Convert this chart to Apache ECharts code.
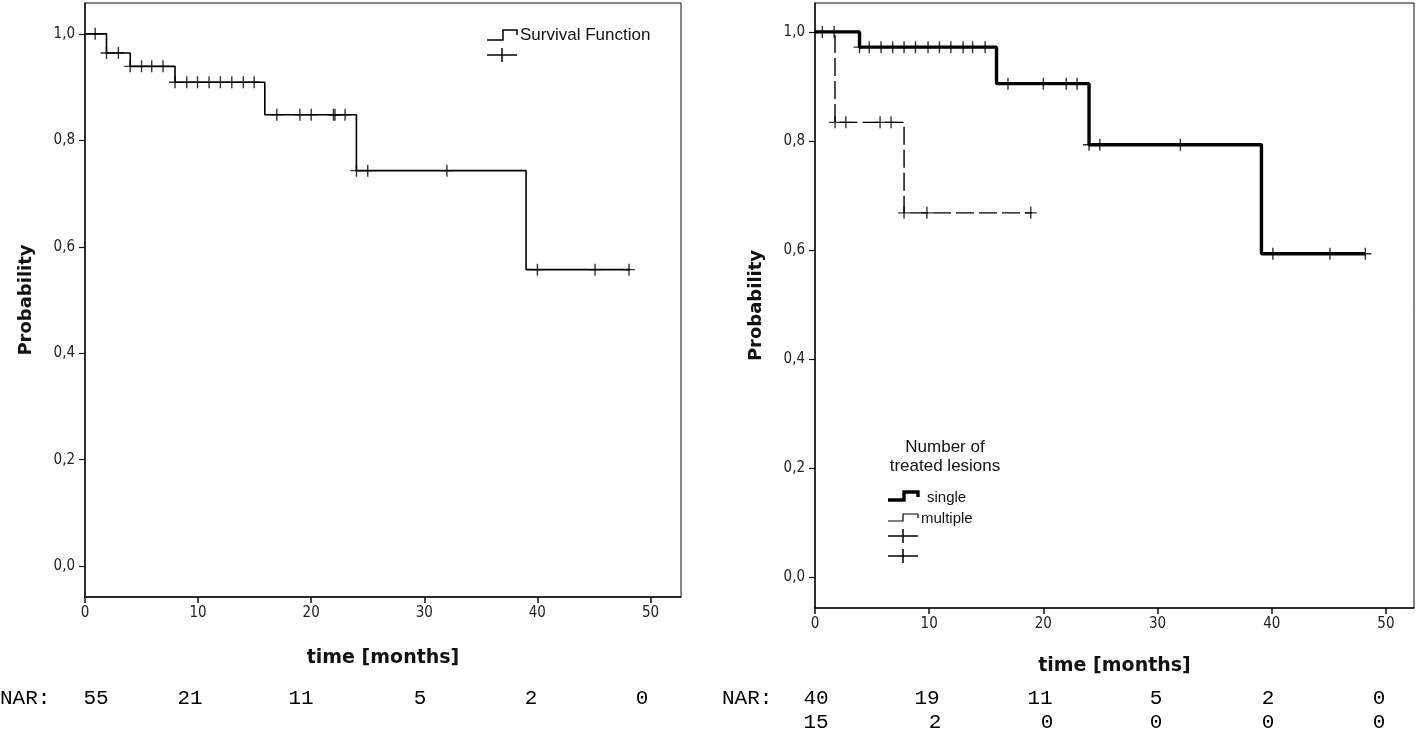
<!DOCTYPE html>
<html><head><meta charset="utf-8">
<script src="https://cdn.jsdelivr.net/npm/echarts@6/dist/echarts.min.js"></script>
<style>html,body{margin:0;padding:0;background:#fff}#c{width:1418px;height:731px}</style>
</head><body><div id="c"></div>
<script>
// ---- Data ----
const xTicks = [0, 10, 20, 30, 40, 50];
const yTicks = [0, 0.2, 0.4, 0.6, 0.8, 1.0];
// Left: overall survival function (step points: time, survival)
const allTimes = [0, 1.9, 4.0, 7.96, 15.9, 24.0, 39.0, 48.2];
const allSurv  = [1.0, 0.964, 0.939, 0.909, 0.848, 0.743, 0.557, 0.557];
const allCensor = [0.9, 1.9, 2.95, 4.0, 5.0, 5.9, 6.9, 7.96, 9.0, 9.95, 10.97, 11.97, 12.98, 14.0, 14.96, 16.96, 19.0, 20.0, 21.97, 22.1, 23.0, 24.0, 25.0, 32.0, 40.0, 45.1, 48.1];
// Right: single lesion
const singleTimes = [0, 3.9, 15.9, 24.0, 39.1, 48.2];
const singleSurv  = [1.0, 0.972, 0.905, 0.793, 0.593, 0.593];
const singleCensor = [0.64, 1.67, 3.9, 4.75, 5.78, 6.8, 7.8, 8.8, 9.9, 10.9, 11.9, 12.97, 13.8, 14.9, 16.9, 20.0, 22.0, 22.95, 24.0, 24.95, 32.0, 40.1, 45.1, 48.2];
// Right: multiple lesions
const multiTimes = [0, 1.75, 7.8, 19.0];
const multiSurv  = [1.0, 0.834, 0.668, 0.668];
const multiCensor = [1.76, 2.7, 5.7, 6.66, 7.8, 9.8, 18.9];
// Numbers at risk
const narLeft = [55, 21, 11, 5, 2, 0];
const narSingle = [40, 19, 11, 5, 2, 0];
const narMulti = [15, 2, 0, 0, 0, 0];

// ---- Layout (text positions only) ----
const narLeftX = [96, 190, 301, 420, 531, 642];
const narRight1X = [816, 927, 1040, 1156, 1268, 1379];
const narRight2X = [816, 935, 1047, 1156, 1268, 1379];

// ---- Helpers ----
function stepPts(t, s) { return t.map((v, i) => [v, s[i]]); }
function survAt(t, s, x) { let v = s[0]; for (let i = 0; i < t.length; i++) if (t[i] <= x + 1e-9) v = s[i]; return v; }
function censPts(t, s, c) { return c.map(x => [x, survAt(t, s, x)]); }
const plus = 'path://M-0.7,-6H0.7V-0.7H6V0.7H0.7V6H-0.7V0.7H-6V-0.7H-0.7Z';
const labelFont = 'DejaVu Sans Condensed, Liberation Sans, sans-serif';
const tickFont = { fontFamily: labelFont, fontSize: 15, color: '#222' };
const fmtY = v => v.toFixed(1).replace('.', ',');
const titleStyle = { fontFamily: 'DejaVu Sans, sans-serif', fontWeight: 'bold', fontSize: 18, color: '#111' };

function xAx(gi, max, gap) {
  return { gridIndex: gi, type: 'value', min: 0, max: max,
    name: 'time [months]', nameLocation: 'middle', nameGap: gap,
    nameTextStyle: { ...titleStyle, fontSize: 19 },
    axisLine: { onZero: false, lineStyle: { color: '#111', width: 1.5 } },
    axisTick: { show: true, length: 6, lineStyle: { color: '#111', width: 1.5 }, customValues: xTicks },
    axisLabel: { ...tickFont, margin: 9, customValues: xTicks, formatter: v => String(v) },
    splitLine: { show: false } };
}
function yAx(gi, min, max) {
  return { gridIndex: gi, type: 'value', min: min, max: max,
    name: 'Probability', nameLocation: 'middle', nameGap: 50, nameRotate: 90, nameTextStyle: titleStyle,
    axisLine: { show: true, onZero: false, lineStyle: { color: '#111', width: 1.5 } },
    axisTick: { show: true, length: 6, lineStyle: { color: '#111', width: 1.2 }, customValues: yTicks },
    axisLabel: { ...tickFont, margin: 10, customValues: yTicks, formatter: fmtY },
    splitLine: { show: false } };
}
function lineSeries(name, xi, pts, width, type) {
  return { name, type: 'line', xAxisIndex: xi, yAxisIndex: xi, step: 'end', data: pts,
    showSymbol: false, symbol: 'none', silent: true, animation: false,
    lineStyle: { color: '#000', width: width, type: type || 'solid', cap: 'butt' } };
}
function censSeries(name, xi, pts) {
  return { name, type: 'scatter', xAxisIndex: xi, yAxisIndex: xi, data: pts, symbol: plus,
    symbolSize: 12, itemStyle: { color: '#000' }, silent: true, animation: false, z: 5 };
}

const chart = echarts.init(document.getElementById('c'), null, { renderer: 'canvas' });
const mono = 'Liberation Mono, DejaVu Sans Mono, monospace';
const narStyle = { fontFamily: mono, fontSize: 21, fill: '#000', verticalAlign: 'middle' };

const g = [];
g.push({ type: 'text', x: 0, y: 698, style: { text: 'NAR:', ...narStyle, align: 'left' } });
g.push({ type: 'text', x: 722, y: 698, style: { text: 'NAR:', ...narStyle, align: 'left' } });
narLeft.forEach((n, i) => g.push({ type: 'text', x: narLeftX[i], y: 698, style: { text: String(n), ...narStyle, align: 'center' } }));
narSingle.forEach((n, i) => g.push({ type: 'text', x: narRight1X[i], y: 698, style: { text: String(n), ...narStyle, align: 'center' } }));
narMulti.forEach((n, i) => g.push({ type: 'text', x: narRight2X[i], y: 722, style: { text: String(n), ...narStyle, align: 'center' } }));
// Left legend
const line = (pts, w) => ({ type: 'polyline', shape: { points: pts }, style: { stroke: '#000', lineWidth: w, fill: null } });
g.push(line([[487, 40], [503, 40], [503, 30], [517, 30], [517, 35]], 1.5));
g.push({ type: 'text', x: 520, y: 35, style: { text: 'Survival Function', fontFamily: 'Liberation Sans, sans-serif', fontSize: 17, fill: '#111', verticalAlign: 'middle' } });
g.push(line([[487, 55], [517, 55]], 1.5));
g.push(line([[502, 48], [502, 62]], 1.5));
// Right legend
g.push({ type: 'text', x: 945, y: 457, style: { text: 'Number of\ntreated lesions', fontFamily: 'Liberation Sans, sans-serif', fontSize: 17, fill: '#111', align: 'center', verticalAlign: 'middle', lineHeight: 19 } });
g.push(line([[888, 500], [904, 500], [904, 492], [918, 492], [918, 497]], 3.4));
g.push({ type: 'text', x: 927, y: 498, style: { text: 'single', fontFamily: 'Liberation Sans, sans-serif', fontSize: 15, fill: '#111', verticalAlign: 'middle' } });
g.push(line([[888, 521], [903, 521], [903, 514], [918, 514], [918, 518]], 1.2));
g.push({ type: 'text', x: 921, y: 519, style: { text: 'multiple', fontFamily: 'Liberation Sans, sans-serif', fontSize: 15, fill: '#111', verticalAlign: 'middle' } });
[536, 556].forEach(y => { g.push(line([[888, y], [918, y]], 1.5)); g.push(line([[903, y - 7], [903, y + 7]], 1.5)); });

const option = {
  backgroundColor: '#fff',
  animation: false,
  grid: [
    { left: 85, top: 3, width: 596, height: 594, show: true, borderColor: '#111', borderWidth: 1, backgroundColor: 'transparent' },
    { left: 815, top: 3, width: 599, height: 605, show: true, borderColor: '#111', borderWidth: 1, backgroundColor: 'transparent' }
  ],
  xAxis: [xAx(0, 52.7, 52), xAx(1, 52.46, 49)],
  yAxis: [yAx(0, -0.058, 1.058), yAx(1, -0.057, 1.053)],
  series: [
    lineSeries('Survival Function', 0, stepPts(allTimes, allSurv), 1.6),
    censSeries('Censored', 0, censPts(allTimes, allSurv, allCensor)),
    lineSeries('single', 1, stepPts(singleTimes, singleSurv), 3.4),
    lineSeries('multiple', 1, stepPts(multiTimes, multiSurv), 1.4, [18, 5]),
    censSeries('single-censored', 1, censPts(singleTimes, singleSurv, singleCensor)),
    censSeries('multiple-censored', 1, censPts(multiTimes, multiSurv, multiCensor))
  ],
  graphic: g
};
chart.setOption(option);
</script>
</body></html>
